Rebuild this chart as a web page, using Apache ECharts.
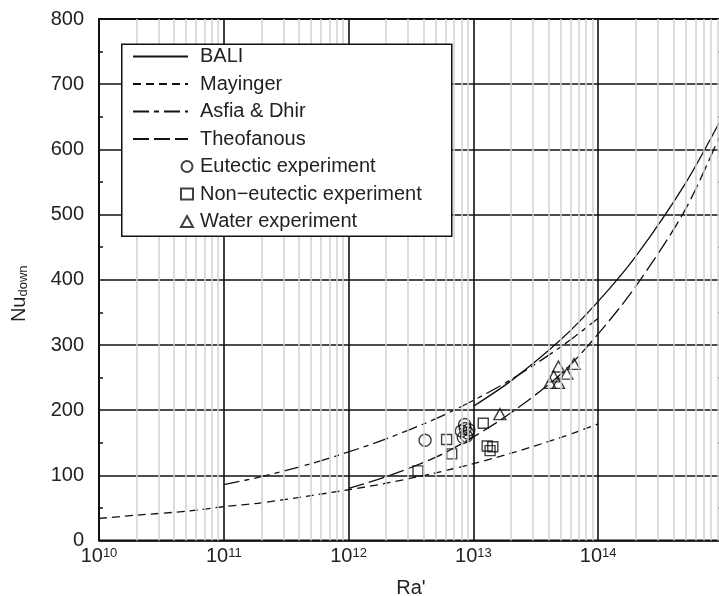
<!DOCTYPE html>
<html>
<head>
<meta charset="utf-8">
<script src="https://cdn.jsdelivr.net/npm/echarts@6/dist/echarts.min.js"></script>
<style>
  html, body { margin: 0; padding: 0; overflow: hidden; background: #fff; }
  #chart { width: 730px; height: 596px; }
</style>
</head>
<body>
<div id="chart"></div>
<script>
// Downward heat transfer correlations, Nu_down versus modified Rayleigh number Ra'
const raMayinger = [1e10, 2e10, 5e10, 1e11, 2e11, 5e11, 1e12, 2e12, 5e12, 1e13, 2e13, 5e13, 1e14];
const nuMayinger = [34, 39, 45, 52, 58, 69, 78, 88, 104, 118, 134, 158, 179];

const raAsfia = [1e11, 2e11, 5e11, 1e12, 2e12, 5e12, 1e13, 2e13, 5e13, 1e14];
const nuAsfia = [86, 98, 118, 136, 156, 187, 215, 247, 297, 341];

const raBali = [1e13, 2e13, 5e13, 1e14, 2e14, 5e14, 1e15];
const nuBali = [206, 245, 308, 367, 436, 548, 652];

const raTheo = [1e12, 2e12, 5e12, 1e13, 2e13, 5e13, 1e14, 2e14, 5e14, 1e15];
const nuTheo = [80, 98, 128, 159, 196, 255, 317, 390, 508, 632];

// Experimental points
const raEutectic = [4.1e12, 8.0e12, 8.5e12, 8.8e12, 9.2e12, 8.3e12, 9.0e12, 8.6e12];
const nuEutectic = [154, 168, 178, 160, 170, 158, 165, 172];

const raNonEutectic = [3.6e12, 6.1e12, 6.7e12, 1.2e13, 1.29e13, 1.36e13, 1.43e13];
const nuNonEutectic = [107, 155, 133, 180, 145, 138, 144];

const raWater = [1.63e13, 4.1e13, 4.4e13, 4.8e13, 4.8e13, 5.6e13, 6.4e13];
const nuWater = [194, 242, 252, 267, 242, 256, 271];

// Axis ticks
const xDecades = [1e10, 1e11, 1e12, 1e13, 1e14, 1e15];
const yTicks = [0, 100, 200, 300, 400, 500, 600, 700, 800];

const pairs = (xs, ys) => xs.map((x, i) => [x, ys[i]]);

// intermediate log-decade grid lines (2..9 x 10^n)
const minorX = [];
for (let d = 0; d < xDecades.length - 1; d++) {
  for (let m = 2; m <= 9; m++) minorX.push(m * xDecades[d]);
}

const FONT = 'Liberation Sans, Arial, sans-serif';
const INK = '#111';
const TXT = '#222';

const lineBase = {
  type: 'line', symbol: 'none', showSymbol: false, smooth: 0.3, z: 2, clip: true
};
const markerStyle = { color: 'rgba(0,0,0,0)', borderColor: INK, borderWidth: 1.4 };

const chart = echarts.init(document.getElementById('chart'), null, { renderer: 'canvas' });

chart.setOption({
  animation: false,
  backgroundColor: '#fff',
  grid: {
    left: 99, right: 7, top: 19, bottom: 55.4,
    outerBoundsMode: 'none',
    containLabel: false,
    show: true, borderColor: INK, borderWidth: 2, backgroundColor: 'rgba(0,0,0,0)'
  },
  xAxis: {
    type: 'log', logBase: 10,
    min: xDecades[0], max: xDecades[xDecades.length - 1],
    z: 1,
    name: "Ra'",
    nameLocation: 'middle',
    nameGap: 38,
    nameTextStyle: { fontFamily: FONT, fontSize: 20, color: TXT },
    axisLine: { show: false },
    axisTick: { show: false },
    splitLine: { show: true, lineStyle: { color: INK, width: 1.6 } },
    axisLabel: {
      margin: 6,
      showMaxLabel: false,
      formatter: v => '{b|10}{s|' + Math.round(Math.log10(v)) + '}',
      rich: {
        b: { fontFamily: FONT, fontSize: 20, color: TXT, lineHeight: 20, verticalAlign: 'bottom' },
        s: { fontFamily: FONT, fontSize: 13, color: TXT, lineHeight: 14, padding: [0, 0, 12, 0], verticalAlign: 'top' }
      }
    }
  },
  yAxis: [
    {
      type: 'value', min: yTicks[0], max: yTicks[yTicks.length - 1], interval: 100,
      z: 1,
      name: '{a|Nu}{b|down}',
      nameLocation: 'middle',
      nameRotate: 90,
      nameGap: 66,
      nameTextStyle: {
        padding: [0, 28, 0, 0],
        rich: {
          a: { fontFamily: FONT, fontSize: 20, color: TXT, lineHeight: 20, verticalAlign: 'top', padding: [0, 0, 10, 0] },
          b: { fontFamily: FONT, fontSize: 13, color: TXT, lineHeight: 14, verticalAlign: 'bottom' }
        }
      },
      axisLine: { show: false },
      axisTick: { show: false },
      minorTick: { show: true, splitNumber: 2, length: -4, lineStyle: { color: INK, width: 1.5 } },
      splitLine: { show: true, lineStyle: { color: INK, width: 1.6 } },
      axisLabel: { margin: 15, fontFamily: FONT, fontSize: 20, color: TXT }
    },
    {
      type: 'value', position: 'right', min: yTicks[0], max: yTicks[yTicks.length - 1], interval: 100,
      z: 1,
      axisLine: { show: false },
      axisTick: { show: false },
      axisLabel: { show: false },
      splitLine: { show: false },
      minorTick: { show: true, splitNumber: 2, length: -5, lineStyle: { color: INK, width: 1.5 } }
    }
  ],
  legend: [
    {
      data: ['BALI', 'Mayinger', 'Asfia & Dhir', 'Theofanous'],
      orient: 'vertical',
      left: 132, top: 46.5,
      padding: 0,
      zlevel: 1, z: 2,
      itemWidth: 55, itemHeight: 14, itemGap: 7.5,
      selectedMode: false,
      itemStyle: { color: 'rgba(0,0,0,0)', borderColor: 'rgba(0,0,0,0)', borderWidth: 0, opacity: 0 },
      textStyle: { fontFamily: FONT, fontSize: 20, color: TXT, lineHeight: 20, padding: [0, 0, 0, 7] }
    },
    {
      data: ['Eutectic experiment', 'Non\u2212eutectic experiment', 'Water experiment'],
      orient: 'vertical',
      left: 180, top: 156.5,
      padding: 0,
      zlevel: 1, z: 2,
      itemWidth: 12, itemHeight: 11, itemGap: 7.5,
      selectedMode: false,
      textStyle: { fontFamily: FONT, fontSize: 20, color: TXT, lineHeight: 20, padding: [0, 0, 0, 2] }
    }
  ],
  graphic: [
    {
      type: 'rect', left: 121, top: 43.5, zlevel: 1, z: 0,
      shape: { width: 330, height: 192 },
      style: { fill: '#fff', stroke: INK, lineWidth: 1.5 }
    }
  ],
  series: [
    {
      // light decade subdivisions
      type: 'line', data: [], z: 0, silent: true,
      markLine: {
        silent: true, symbol: 'none', animation: false,
        label: { show: false },
        lineStyle: { color: '#d2d2d2', width: 1.5, type: 'solid' },
        data: minorX.map(v => ({ xAxis: v }))
      }
    },
    Object.assign({}, lineBase, {
      name: 'BALI', data: pairs(raBali, nuBali),
      lineStyle: { color: INK, width: 1.3, type: 'solid' }, itemStyle: { color: INK }
    }),
    Object.assign({}, lineBase, {
      name: 'Mayinger', data: pairs(raMayinger, nuMayinger),
      lineStyle: { color: INK, width: 1.3, type: [8, 5] }, itemStyle: { color: INK }
    }),
    Object.assign({}, lineBase, {
      name: 'Asfia & Dhir', data: pairs(raAsfia, nuAsfia),
      lineStyle: { color: INK, width: 1.3, type: [16, 5, 5, 5] }, itemStyle: { color: INK }
    }),
    Object.assign({}, lineBase, {
      name: 'Theofanous', data: pairs(raTheo, nuTheo),
      lineStyle: { color: INK, width: 1.3, type: [16, 5] }, itemStyle: { color: INK }
    }),
    {
      name: 'Eutectic experiment', type: 'scatter', z: 3,
      symbol: 'circle', symbolSize: 12,
      itemStyle: markerStyle,
      data: pairs(raEutectic, nuEutectic)
    },
    {
      name: 'Non\u2212eutectic experiment', type: 'scatter', z: 3,
      symbol: 'rect', symbolSize: 10,
      itemStyle: markerStyle,
      data: pairs(raNonEutectic, nuNonEutectic)
    },
    {
      name: 'Water experiment', type: 'scatter', z: 3,
      symbol: 'triangle', symbolSize: [12, 11],
      itemStyle: markerStyle,
      data: pairs(raWater, nuWater)
    }
  ]
});
</script>
</body>
</html>
